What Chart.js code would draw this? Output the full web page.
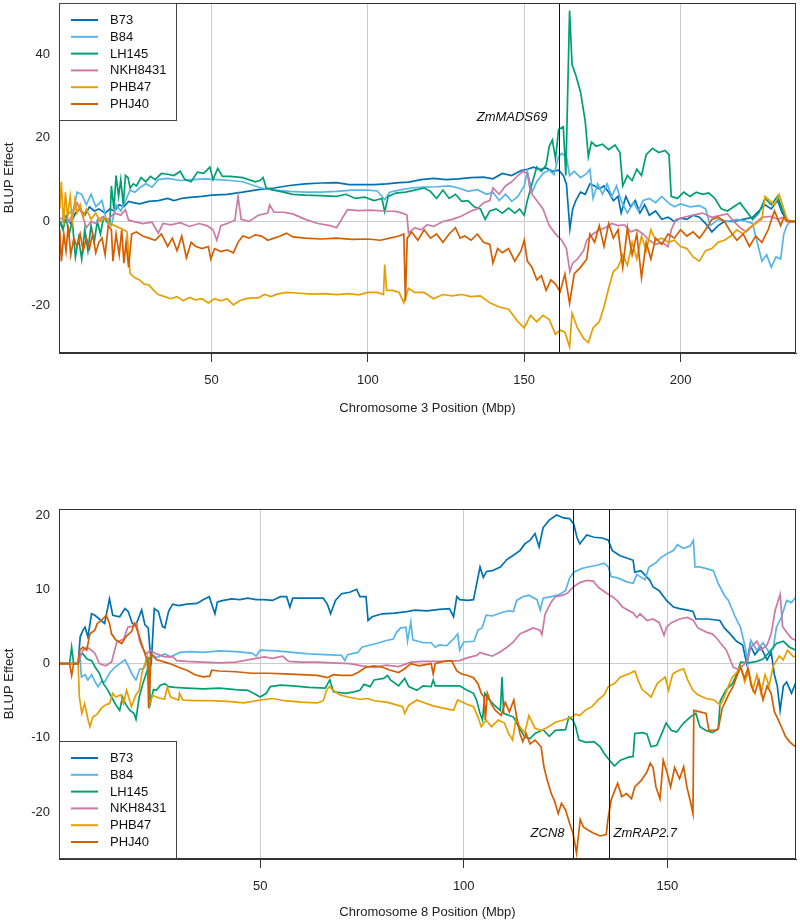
<!DOCTYPE html>
<html lang="en">
<head>
<meta charset="UTF-8">
<title>BLUP effects, chromosomes 3 and 8</title>
<script src="https://cdn.jsdelivr.net/npm/chart.js"></script>
<style>
  body { margin: 0; background: #fff; }
  .panel { position: absolute; left: 0; width: 800px; }
  #top { top: 0; height: 420px; }
  #bottom { top: 420px; height: 502px; }
</style>
</head>
<body>
<div class="panel" id="top"><canvas id="chr3Chart" width="800" height="420"></canvas></div>
<div class="panel" id="bottom"><canvas id="chr8Chart" width="800" height="502"></canvas></div>

<script>
// inbred lines, legend order
const lineNames = ['B73', 'B84', 'LH145', 'NKH8431', 'PHB47', 'PHJ40'];
const lineColors = ['#0072B2', '#56B4E9', '#009E73', '#CC79A7', '#E69F00', '#D55E00'];

// axis ticks
const chr3XTicks = [50, 100, 150, 200];
const chr3YTicks = [-20, 0, 20, 40];
const chr8XTicks = [50, 100, 150];
const chr8YTicks = [-20, -10, 0, 10, 20];

// candidate genes [name, position Mbp, label y, side of label]
const chr3Genes = [['ZmMADS69', 161.2, 25, 'left']];
const chr8Genes = [['ZCN8', 126.8, -22.8, 'left'], ['ZmRAP2.7', 135.6, -22.8, 'right']];

// chromosome 3 : [position (Mbp), BLUP effect]
const chr3B73 = [[1.5,0],[2.5,-1.5],[3.5,1],[5,-0.5],[6.5,2],[8,3],[9.5,1.5],[11,3.5],[12.5,2.5],[14,3],[16,2],[17.5,3],[19,2.5],[20.5,4],[22,3.5],[23.5,4.8],[25,4.5],[27,4.2],[30,4.8],[33,5],[36,5.5],[38,5],[41,5.6],[44,5.8],[47,6],[50,6.3],[55,6.5],[60,7],[65,7.6],[70,8],[75,8.6],[80,9],[85,9.2],[90,9.3],[94,8.8],[98,8.8],[102,8.8],[106,9],[110,9.3],[113,9.4],[117,10],[121,10.3],[125,10],[129,10.2],[133,10.5],[137,10.6],[140,10.2],[143,11.5],[146,11],[149,12.2],[151,12.5],[153,13],[155,12.4],[157,12.8],[159,12],[161,12.3],[162.5,11],[163.5,9],[164.6,-1.8],[165.5,3],[166.5,5],[168,7],[169.5,6.5],[171,9],[172.5,8.5],[174,7.8],[175.5,8.5],[177,7],[178.5,5],[180,6],[181,2],[182.5,6],[184,3.5],[185.5,5],[187,2],[188.5,4],[190,1.5],[192,2.5],[194,0.5],[196,1],[198,0],[200,0.8],[202,0.5],[204,1.5],[206,1],[208,-0.5],[210,-2.5],[212,-1],[214,0],[217,0],[220,0.5],[223,1],[225,2.5],[227,4],[229,3],[231,5],[232.5,2],[234,0.5],[235,0],[237,0]];
const chr3B84 = [[1.5,-1],[3,1],[4.5,2],[6,3],[7,7],[8.5,6.5],[10,4],[11.5,6.5],[13,3.5],[15,5],[16.5,0],[18,-1],[19.5,4],[21,2.5],[22.5,5],[24,7.5],[25.5,7],[27,8],[29,9],[31,8.2],[33,10],[36,10.3],[40,9.8],[44,10],[48,10.2],[52,10],[56,9.8],[60,9.5],[64,8.5],[66,8],[70,7.5],[75,7.2],[80,7],[85,7],[90,7.2],[95,7.5],[100,7.5],[103,7.3],[105.4,5.2],[107,7],[110,7.5],[114,8],[118,8.2],[122,8.3],[126,8.5],[129,8],[132,7.2],[135,7.6],[138,6.5],[140,7],[142,5],[144,6.5],[146,4.8],[148,6],[150,8.5],[151,12],[152.5,7],[154,9.5],[156,11.5],[158,12.3],[159.5,11.2],[161,15.5],[162,16.3],[163.5,15.5],[164.5,11],[166,12],[168,10.5],[170,11.5],[171,12.5],[172,5.5],[173.5,9],[175,6.5],[176.5,9],[178,6],[179.5,8.5],[181,5],[183,2],[185,4.5],[186.5,2.5],[188,5],[190,5.5],[192,4.5],[194,6],[196,4.5],[198,3.5],[200,4.2],[203,3.5],[206,3.8],[208,3],[209.5,-1],[212,0.5],[215,0],[218,0.5],[221,0],[223,-0.5],[224.5,-5],[226,-9.5],[227.5,-8],[229,-11],[230.5,-8.5],[232,-9],[233,-3],[234,-1],[235,0],[237,0]];
const chr3LH145 = [[1.5,0],[2.5,-2],[3.5,1],[4.5,-3],[5.5,0],[6.5,-8.5],[7.5,-4],[8.5,-9],[9.5,-2],[10.5,-7],[11.5,-1],[12.5,-5],[13.5,0],[14.5,-3],[15.5,1],[16.5,0],[17.5,-0.5],[18,8.5],[18.8,3],[19.5,11],[20.3,6],[21,10],[21.8,4],[22.5,11],[23.3,10.5],[24,8],[25,9],[26,8.5],[27.5,10.5],[29,9.5],[30.5,10.8],[32,10],[34,11.5],[36,11.3],[38,11],[40,12],[41.5,10],[43.5,9.5],[45.5,11.8],[47.5,11.5],[49.5,13],[50.5,10],[52,12.7],[53.5,10.8],[56,10.8],[60,10.5],[64,9.5],[65.5,9.8],[66.5,10.5],[67.5,8],[70,7.5],[73,7],[76,6.5],[80,6.3],[85,6.2],[90,6],[93,6.5],[96,5.5],[99,5.8],[102,5],[104.5,5.5],[105.4,2.3],[106.5,6],[109,6.8],[112,7],[115,7.5],[118,8],[120,7.2],[122,5.5],[124,7.5],[126,5.5],[128,6.5],[130,4.8],[132,5],[134,3.5],[136,3],[137.5,0.5],[139,2.5],[141,3],[143,2],[145,3.2],[147,2],[148.5,3],[150,1.5],[151,5],[152.5,9],[154,13],[155.5,12],[157,13.5],[158,18],[159,19.5],[160,15],[161,22],[162.5,22.7],[163.3,11],[164.5,50.5],[165.3,37.5],[166.5,35],[168,31],[169.5,24],[170.5,15.5],[171.5,19],[173,18],[175,18.5],[177,17.2],[179,18.3],[180.6,16.5],[181.5,8.5],[183,11],[184.5,9.8],[186,12.5],[187.5,11],[189,16],[191,17.5],[193,16.5],[195,17],[196.3,16],[197,6],[199,5.5],[201,7],[203,6],[205,7],[207,6.5],[209,6.8],[211,5.5],[213,3],[215,2.5],[217,3.5],[219,4.5],[221,2.5],[223,0.5],[225,2],[227,5.5],[229,4],[231,6],[232.5,3],[234,0.5],[235,0],[237,0]];
const chr3NKH8431 = [[1.5,0.5],[3,1],[4.5,0],[6,2.5],[7,4.5],[8.5,2],[10,-1.5],[11.5,0],[13,-0.5],[15,1],[17,0.5],[19,2],[21,1.5],[22.5,2.8],[23.5,0.3],[25,0],[28,-0.5],[31,-0.2],[33,-2.8],[34.5,-0.5],[37,-0.8],[40,-0.3],[43,-1.2],[46,-0.5],[48.5,-1],[50.5,-2],[51.7,-4.5],[53,-1],[55,-0.5],[57.5,0.3],[58.5,6],[59.5,0.5],[62,0],[65,1.5],[68,2],[68.6,4],[70,2.2],[73,2.2],[76,1.8],[80,0.5],[84,-0.5],[88,-1],[90,-1.5],[92,1],[93.5,2.8],[97,2.6],[101,2.7],[105,2.5],[109,2.4],[111,2],[112.5,1.5],[113,-2.8],[115,-1.5],[117,-2],[119,-0.8],[121,-1.2],[124,0],[127,0.5],[130,1.3],[133,2.5],[135,3],[137,4.5],[139,5],[140,8],[142,6.5],[144,8.5],[146,9.5],[148,11],[149.5,12],[151,11.5],[152,7],[154,5],[156,3],[158,-1],[160,-3],[162,-4.5],[163.5,-6.5],[164.6,-12],[165.5,-10],[167,-9],[169,-7],[170,-4.5],[172,-3],[174,-2],[176,-1.5],[178,-0.5],[180,-1],[182,-0.8],[184,-2.5],[186,-2],[188,-3],[190,-4.5],[192,-5.5],[194,-5],[196,-6],[197,-2],[198.5,0.5],[201,1],[204,1.5],[207,2],[210,1],[213,1.5],[215,1.8],[217,0],[219,-1.5],[221,-2.5],[223,-1],[226,1],[229,1.2],[231,0.5],[233,1],[234,0],[237,0]];
const chr3PHB47 = [[1.5,3],[2,9.5],[2.7,-1],[3.3,7],[4,1],[4.8,6],[5.5,0],[6.3,5],[7,2],[8,4],[9,1],[10,3],[11.5,0.5],[13,2],[14.5,0],[16,1],[17.5,-0.5],[19,-1],[20.5,-1.5],[22,-2],[23,-2.5],[24,-12.5],[25.5,-13.5],[27,-14],[28.5,-15],[30,-15.2],[31.5,-16.5],[33,-17.5],[35,-18],[37,-18.5],[39,-18],[41,-19],[43,-18.2],[45,-18.8],[47,-18.5],[49,-19.5],[51,-18.5],[53,-19],[55,-18.5],[57,-20],[59,-19],[61,-18.5],[63,-18.3],[65,-18.3],[67,-17.5],[69,-18],[71,-17.4],[74,-17],[78,-17.2],[82,-17.4],[86,-17.3],[90,-17.5],[94,-17.3],[97,-17.6],[100,-17],[103,-17],[105,-17.5],[105.4,-10.3],[106,-16.5],[108,-16.5],[110,-17],[111.5,-19.5],[113,-16],[115,-17],[118,-17],[121,-18.5],[124,-17.5],[127,-17.8],[130,-17.5],[133,-18],[136,-17.8],[139,-19.5],[142,-20.5],[145,-21],[148,-24],[150,-25.5],[152,-22.5],[154,-24],[156,-22.5],[158,-23.5],[160,-27],[161.5,-26],[163,-26.5],[164.5,-30],[165.3,-22],[167,-25.5],[169,-28],[170.5,-29],[172,-25.5],[174,-24],[175.5,-20.5],[177,-16],[178.5,-12],[180,-11],[181.5,-8],[183,-10.5],[184.5,-5],[186,-9],[187.5,-3.5],[189,-7],[190.5,-2],[192,-4.5],[194,-4],[196,-5],[198,-4.5],[200,-6],[202,-6.5],[204,-8.5],[206,-9.5],[208,-7],[210,-6.5],[212,-5],[214,-4.5],[216,-3.5],[218,-2],[220,-3],[222,-1.5],[224,-0.5],[226,0.5],[227,6],[228.5,5],[230,4],[231.5,6.5],[233,3],[234,0.5],[235,0],[237,0]];
const chr3PHJ40 = [[1.5,-2],[2,-9.5],[2.8,-3],[3.5,-7],[4.2,-1],[5,-8],[6,-4],[7,-6],[8,-3],[9,-7],[10,-4],[11,-6.5],[12,-3],[13,-7.5],[14,-5],[15,-4],[16,-8],[17,-1],[18,-2],[18.5,-9.5],[19.5,-3],[20.5,-8],[21.3,-2],[22,-10],[22.7,-5],[23.5,-11],[24.5,-3],[26,-2.5],[28,-3.5],[30,-4],[32,-4.5],[34,-3],[36,-6],[37.5,-4],[39,-7],[40.5,-3.5],[42,-8.7],[43.5,-5],[45,-6],[47,-6.5],[49,-6],[49.8,-9],[51,-6.5],[53,-7.2],[55,-6.8],[57,-7.5],[58.5,-5],[60,-3.5],[62,-4],[64,-3.2],[66,-3.5],[68,-4.5],[70,-4],[72,-3.5],[74,-2.8],[76,-3.7],[80,-4],[85,-4.2],[90,-4],[95,-4.3],[100,-4.2],[104,-4.5],[107,-4],[110,-3.5],[111.5,-3],[112,-19],[112.6,-4],[114,-2.5],[116,-4.5],[118,-2],[120,-4],[122,-3],[124,-5],[126,-3],[128,-1.5],[129.5,-4],[131,-3.5],[133,-4.5],[135,-3],[137,-5],[139,-5.5],[140,-10],[141.5,-6.5],[143,-7.5],[145,-6.5],[147,-9.5],[149,-7],[150,-4.5],[151,-9.5],[152.5,-11],[154,-14],[155.5,-13],[157,-16.5],[158.5,-14],[160,-15],[161.5,-16.8],[163,-12.6],[164.5,-19.6],[166,-12.5],[168,-11],[170,-9],[171,-3],[172.5,-5],[174,-1],[175.5,-6],[177,-0.5],[178.5,-4],[180,-2],[181.5,-11],[183,-1.5],[184.5,-8],[186,-3],[187.5,-13.5],[189,-5],[190.5,-9],[192,-4],[194,-5.5],[196,-3],[198,-4],[200,-2],[202,-3.5],[204,-2.5],[206,-4],[208,-2],[210,0.5],[212,1],[214,0],[216,-2.5],[218,-4.5],[220,-3],[222,-6],[224,-3.5],[226,-5],[228,-2],[230,2.5],[232,-1],[233,1],[234,0],[237,0]];

// chromosome 8 : [position (Mbp), BLUP effect]
const chr8B73 = [[0.6,0],[2.5,0],[5.3,0],[5.8,3.6],[6.5,4.5],[7,4.9],[7.7,3.6],[8.6,6.7],[9.4,6.5],[10.5,6],[11.8,5.4],[13,8.7],[13.8,6.5],[15.5,6.3],[16.8,7.4],[17.6,7],[18.6,5.4],[19.5,5.2],[20.9,7.2],[21.7,5.2],[22.5,4.8],[23,1.5],[23.3,0.5],[24,7.4],[25,7],[26,5],[26.6,4.8],[27.5,7],[28.5,8],[30,7.8],[32,8],[34.5,8.1],[36,8.6],[37.5,9],[38.9,6.7],[39.5,8.3],[41,8.5],[43,8.7],[45,8.6],[47,8.8],[49,8.6],[51,8.6],[53,8.5],[55,9],[56.5,9],[57.3,7.6],[58,8.8],[62,8.8],[65.5,8.8],[66.5,8],[67.3,6.7],[68.5,8.5],[70,9.4],[72,9.6],[73.7,10],[74.5,9],[76,9],[76.5,5.8],[77.5,6.3],[80,6.7],[83,6.8],[86,7],[88,7.2],[91,7.1],[94,7.3],[96.5,7.4],[97.5,6.3],[98.3,9],[99,8.6],[101,8.5],[102.4,8.6],[103.2,10.8],[104,13],[104.8,11.6],[105.6,12.4],[107,12.5],[109,13],[110.6,14],[112,14.5],[113.8,15.2],[115,16.1],[116.3,16.6],[117.5,17.5],[118.5,15.7],[119.5,18.3],[121,19.3],[122.8,20],[124.5,19.6],[126,19.5],[127,18.8],[127.8,17],[128.5,16.1],[130.2,17.3],[132,17],[134,16.9],[135.5,16.6],[136.5,15.2],[138.4,14.5],[140,14.2],[141.6,13.9],[142,12.3],[143.5,12.5],[145.7,11.2],[146.5,10.3],[148,9.8],[149.8,8.5],[151.5,7.6],[153,7.4],[155,7.2],[156.3,7],[157,6],[160,6],[162.9,5.8],[164,4.8],[165.4,4],[167,3],[168.5,2.5],[169.5,0],[170.3,2.5],[171.5,1.2],[173,2.2],[174.5,0.5],[175.5,1.5],[176.3,-1.5],[177,-3],[177.7,-6.3],[178.5,-3],[179.3,-2.5],[180.5,-4],[181.6,-2.5]];
const chr8B84 = [[0.6,0],[5.3,0],[5.7,1.3],[6.1,-1.8],[7,-1.5],[7.7,-2.2],[8.6,-1.5],[9.5,-2.5],[10.2,-3.1],[11,-2.4],[11.8,-2.5],[13,-1.3],[14.3,-0.5],[15.5,0],[16.8,0.5],[17.6,-0.3],[18.5,-1.4],[19.5,-2.2],[20.4,-0.8],[21.5,-0.6],[22.5,0.5],[23.5,1.2],[24.6,0.8],[26.6,1.3],[28,0.9],[30.3,1.5],[33,1.6],[36,1.5],[40,1.7],[44,1.6],[48,1.4],[49,1],[50,1.8],[54,1.7],[58,1.5],[62,1.3],[66,1.2],[70,1.1],[70.8,0.4],[71.5,1.2],[74,1.5],[75,2.2],[77,2.5],[78.6,2.7],[81,3.1],[82.7,3.3],[83.5,4.2],[84.5,4.8],[85.8,4.9],[86.2,3],[87,5.6],[87.5,3.2],[90,2.8],[92,2.8],[93,2.2],[94,2.5],[95.8,2.4],[97.5,3.3],[98.5,4],[99,1.8],[100,2.9],[102.5,3],[103.5,4.5],[104.5,4.8],[105.5,6.5],[107,6.4],[109,6.8],[111,7.1],[112.2,7],[113,8.5],[114.5,9],[116,9.2],[118,8.6],[118.8,7.2],[119.5,8.8],[121.5,9],[123.5,9.3],[125,9.8],[126,11.5],[127,12.3],[129,12.8],[130.5,13],[132.5,13.2],[134.5,13.5],[135.5,13],[136.2,11.7],[138,11.5],[140,11],[141.6,10.8],[142.5,12],[144.5,11.3],[145.5,13],[147,13.5],[148.5,14.3],[150,14.8],[151.5,15.2],[152.5,16],[154,15.5],[155.6,15.8],[156.4,16.6],[156.8,13],[158,13],[160,12.7],[161.3,12.5],[162.5,10.8],[164,9.2],[165,8.5],[166.5,6.5],[168,4.8],[169,2.5],[169.8,0.3],[170.5,3.1],[172,1.8],[173.5,2.8],[175,1.5],[176,2],[176.8,4.9],[178,6.2],[179.3,8.5],[180.5,8.2],[181.6,9]];
const chr8LH145 = [[0.6,0],[3.2,0],[3.7,2.2],[4.2,0],[5.3,0],[5.8,1.2],[6.5,1.3],[7.5,0.6],[8.6,0.4],[9.5,-0.5],[10.5,-1.3],[11.5,-2.7],[12.5,-3.5],[13.5,-4.5],[14.5,-5.5],[15.5,-6.3],[16.2,-4.5],[17,-5.5],[18,-6.3],[19,-6.7],[19.5,-7.5],[20.3,-4.5],[21.3,-2.5],[22.3,-0.9],[22.6,0.9],[23,-5.4],[23.8,-3.5],[24.5,-3.6],[25.5,-2.9],[26.6,-2.7],[27.5,-3.1],[29,-3.2],[32,-3.3],[36,-3.4],[40,-3.3],[44,-3.5],[47,-3.6],[49,-4.2],[50,-4.5],[51.5,-4],[52.5,-3.1],[55,-2.9],[58,-3],[62,-3.2],[66,-3.3],[67.1,-2.2],[68,-3.8],[71,-4],[73,-3.8],[74.5,-3.6],[75.5,-2.8],[77,-3.1],[78,-2.2],[80.3,-2],[81.3,-1.6],[82,-2.2],[84,-3],[85.5,-2],[86.5,-3.1],[88.5,-3.6],[90,-3],[92,-3.1],[92.5,-2.2],[93,-3],[96,-3],[99,-3],[100.5,-3.5],[102.4,-4],[103.2,-5],[104,-6.7],[104.6,-7.6],[105.2,-4],[106,-4.7],[107.3,-5.5],[109,-6.3],[109.4,-1.8],[109.8,-6.7],[112.2,-7.2],[113.5,-8.5],[115,-9.9],[116.3,-10.1],[117.5,-9.4],[119.5,-8.9],[121,-9.8],[122.5,-9],[125,-8.9],[125.8,-7.2],[126.8,-7.6],[127.5,-8.5],[128.3,-10.3],[130,-10.6],[132,-10.5],[133.5,-11.2],[134.5,-12.1],[135.8,-13],[137,-13.8],[138.5,-13],[140.5,-12.6],[141.6,-12.5],[142,-9.4],[144,-9.3],[145,-9.5],[146,-11.2],[147.4,-11],[148.5,-9.6],[149.7,-8],[151,-9],[152.3,-9.2],[154,-8],[155.6,-7.2],[157,-6.7],[158,-8.5],[159.5,-9],[161,-9.3],[162.5,-8.8],[163,-5],[164.5,-3.5],[166,-2.7],[167,-1.5],[168,0.2],[170,0.1],[172,0.3],[173.5,0.6],[175,1.5],[176.8,2.7],[178.5,3],[180,2.2],[181.6,1.8]];
const chr8NKH8431 = [[0.6,0],[5.3,0],[5.8,0.9],[6.5,1.8],[7.5,2.2],[8.6,1.8],[9.5,1.3],[10.5,0],[12,-0.3],[13.5,0.2],[14.8,2.9],[16.5,3.3],[17.5,4.9],[18.5,5],[19.7,5.4],[20.4,3],[21,2.2],[22,1.3],[23,1.8],[24.5,1.3],[26.6,0.9],[28.6,0.9],[29.5,0.4],[32,0.3],[36,0.2],[40,0.1],[44,0.2],[48,0.6],[51,0.9],[53,0.7],[55.5,1],[57,0.3],[60,0.2],[64,0.2],[68,0.1],[72,0],[75,-0.3],[78,-0.5],[81,-0.2],[84,-0.4],[87,0.2],[90,0.3],[95,0.3],[99,0.4],[101,0.8],[103.2,1.1],[104,1.5],[105,1.3],[107,1],[109,1.6],[110.6,2.2],[112,2.8],[113.8,4],[115.5,4.4],[117,4.8],[118.7,4.5],[119.2,3.9],[120,6.7],[121.5,8.3],[122.5,9],[124.4,9.2],[125.5,9.5],[126.9,10.3],[128.5,10.9],[130.2,11.2],[131.8,11.1],[133,10.3],[135,9.5],[136.5,9],[137.6,8.5],[139,7.6],[141.6,6.8],[142.5,6.2],[143.3,6.7],[145,5.8],[146.5,6],[148,5.5],[149.2,3.8],[149.8,4.9],[151,5.5],[153,6],[155,6.2],[156.4,5.8],[157.5,4.8],[159.7,4.2],[161,4],[162,3.5],[163,2.8],[164.5,1.8],[166.2,-0.5],[167.5,-0.8],[169.5,0.2],[170.5,2.2],[172,3],[173,1.8],[174.5,2.5],[175.5,4],[176.5,7.2],[177.7,9.3],[178.3,5],[179.3,4.2],[180.5,3.4],[181.6,3.1]];
const chr8PHB47 = [[0.6,0],[5.3,0],[5.6,-4.5],[6.2,-6.7],[6.9,-5.4],[7.7,-7.5],[8.2,-8.5],[8.9,-7.2],[10,-6.8],[11,-6],[12.2,-5.5],[13,-5.4],[13.8,-4],[14.5,-4.5],[15.8,-4.2],[16.4,-5.4],[17.2,-3.6],[18.4,-5.8],[19.5,-4.2],[20.3,-3.6],[21,-1.2],[21.7,0],[22.3,0.9],[22.8,-5.4],[23.6,-4.3],[25,-4.6],[26.5,-4.8],[27.2,-3.2],[28,-4.5],[30,-4.9],[30.2,-4],[31,-4.9],[34,-5],[38,-5],[42,-5.1],[46,-5.3],[50,-4.9],[53,-4.7],[56,-5],[60,-5.2],[64,-5.3],[65.5,-5],[66.3,-3.6],[67,-3.1],[68,-3.6],[69.5,-4.2],[71.5,-4.5],[74.5,-4.8],[76.5,-4.7],[78,-5],[81,-5.2],[83,-5.5],[85,-5.8],[85.5,-6.7],[86.5,-5.6],[88.5,-4.9],[90.5,-5.3],[92.5,-5.7],[95,-6],[97.5,-6.3],[98.5,-4.9],[100.5,-5.4],[102.4,-5.8],[103.5,-7.2],[104.3,-8.5],[105.5,-7.6],[106.8,-8.5],[108.5,-7.6],[110,-8],[111,-9.4],[112,-10.3],[112.8,-7.5],[113.8,-8.5],[115,-9.3],[116,-7],[117.5,-8.7],[119,-9],[120.5,-8.6],[122.5,-7.9],[124.5,-7.6],[126.5,-7.2],[127.5,-6.8],[128.5,-7],[130,-6.2],[131.5,-5.8],[133,-4.9],[134.5,-4.2],[135.5,-3.1],[137,-2.7],[138.5,-1.8],[140.5,-1.4],[142,-1],[142.8,-2.2],[143.8,-3.5],[145,-4],[146,-4.5],[147.5,-2.7],[149.5,-1.8],[150.3,-3.6],[151.3,-1.4],[152.5,-1],[154,-0.7],[155,-2.2],[156.3,-3.6],[157.5,-4.2],[159.5,-4.7],[161.5,-4.9],[163,-5.6],[164,-4.5],[165,-3],[166,-1.8],[167.2,-1.1],[168,-0.3],[169,-2.5],[170,-1],[171,-3.5],[172,-1.5],[173,-4],[174,-1.5],[175,-3],[176,-0.3],[177.5,1],[178.5,0.5],[179.5,1.8],[181,0.9],[181.6,1]];
const chr8PHJ40 = [[0.6,0],[3.2,0],[3.7,-1.6],[4.2,0],[5.3,0],[5.7,1.8],[6.5,2.2],[7.4,1.8],[8.2,4],[9.4,4.5],[10,5.4],[11,5.8],[12.2,6.5],[13,5.4],[13.5,4],[14.5,3.2],[16,2.7],[17,3.6],[18.4,4.3],[19.2,5.4],[20,4.2],[21,2.5],[22,0.8],[22.4,0],[22.6,-6],[22.9,-3],[23.2,1.3],[24.6,0.5],[26,0.3],[27.8,0],[30,-0.5],[32,-0.9],[34,-1.5],[36,-1.8],[37.6,-1.7],[38.1,-0.9],[40,-1],[44,-1.1],[48,-1.3],[52,-1.3],[56,-1.4],[60,-1.5],[64,-1.6],[66.5,-1.9],[68,-1.5],[70,-1.6],[72.5,-1.6],[74,-1.2],[76,-0.5],[78,-0.3],[80,-0.5],[82,-0.9],[84,-1.2],[85.5,-0.7],[87,0],[89,-0.3],[92,0],[92.5,-1.4],[93,0],[95,0.3],[97,0.4],[98.3,-1],[99.5,-1.4],[101,-1.6],[102.4,-1.9],[103.5,-2.7],[104.3,-4],[105,-4.5],[105.3,-7.6],[105.8,-4],[106.8,-5.5],[107.8,-6.3],[109.2,-7],[110.2,-5.2],[111.2,-6.5],[112.3,-4.9],[113,-7.2],[113.8,-9.4],[114.5,-10.5],[115.3,-9.4],[116.3,-10.8],[117.5,-10.3],[119,-11.2],[119.7,-13.9],[120.5,-15.7],[121.5,-17.5],[122.3,-18.5],[123.2,-20.2],[124,-18.8],[125,-19.7],[126,-21.5],[126.8,-22.8],[127.3,-24.2],[127.7,-25.5],[128.1,-23.5],[128.6,-21],[129.4,-22],[130.5,-22.4],[131.8,-22.8],[133.5,-23.2],[135,-23],[135.4,-21],[136.2,-18.4],[137,-17.2],[137.8,-16.1],[138.8,-17.9],[140,-17.5],[141.2,-18.2],[142,-16.6],[143.5,-15.8],[145,-14.6],[145.8,-13.4],[146.5,-14],[147.2,-16.6],[148.2,-18.2],[149,-13],[150,-14.8],[150.8,-16.6],[151.8,-14],[153,-15.5],[154,-13.9],[154.8,-16.6],[155.6,-18.4],[156.3,-20.2],[156.5,-6.3],[158,-6.5],[159.5,-6.7],[160.2,-9],[161.8,-9],[162.5,-8.8],[163.5,-6],[165,-4.2],[166.2,-3],[167,-1.8],[168,-0.5],[169,-2],[169.8,-0.6],[170.6,-3],[171.5,-4],[172.5,-2.2],[173.5,-4.9],[174.5,-3],[175.5,-4],[176.3,-6.5],[177.2,-7.5],[178,-8.5],[179,-9.8],[180,-10.5],[181,-11],[181.6,-11.2]];

const FONT = "'Liberation Sans', Arial, Helvetica, sans-serif";

// box round the plot, legend and gene markers
const extras = {
  id: 'extras',
  afterDatasetsDraw(chart, args, opts) {
    const ctx = chart.ctx;
    const a = chart.chartArea;
    const xs = chart.scales.x, ys = chart.scales.y;
    ctx.save();

    // gene lines + labels
    ctx.font = 'italic 13px ' + FONT;
    ctx.fillStyle = '#111';
    ctx.textBaseline = 'middle';
    opts.genes.forEach(g => {
      const px = Math.round(xs.getPixelForValue(g[1])) + 0.5;
      ctx.strokeStyle = '#111';
      ctx.lineWidth = 1;
      ctx.beginPath();
      ctx.moveTo(px, a.top);
      ctx.lineTo(px, a.bottom);
      ctx.stroke();
      const py = ys.getPixelForValue(g[2]);
      if (g[3] === 'left') {
        ctx.textAlign = 'right';
        ctx.fillText(g[0], px - (opts.gap || 10), py);
      } else {
        ctx.textAlign = 'left';
        ctx.fillText(g[0], px + 4, py);
      }
    });

    // frame
    ctx.strokeStyle = '#333';
    ctx.lineWidth = 1;
    ctx.strokeRect(Math.round(a.left) + 0.5, Math.round(a.top) + 0.5,
      Math.round(a.right - a.left) - 1, Math.round(a.bottom - a.top) - 1);

    // legend box
    const w = 118, h = 118;
    const lx = Math.round(a.left);
    const ly = opts.legendAt === 'top' ? Math.round(a.top) : Math.round(a.bottom) - h;
    ctx.fillStyle = '#fff';
    ctx.fillRect(lx, ly, w, h);
    ctx.strokeStyle = '#444';
    ctx.strokeRect(lx + 0.5, ly + 0.5, w - 1, h - 1);
    ctx.font = '13px ' + FONT;
    ctx.textAlign = 'left';
    lineNames.forEach((name, i) => {
      const ry = ly + 17 + i * 16.8;
      ctx.strokeStyle = lineColors[i];
      ctx.lineWidth = 2;
      ctx.beginPath();
      ctx.moveTo(lx + 12, ry);
      ctx.lineTo(lx + 39, ry);
      ctx.stroke();
      ctx.fillStyle = '#111';
      ctx.fillText(name, lx + 51, ry + 0.5);
    });
    ctx.restore();
  }
};

function makeChart(canvasId, series, cfg) {
  const datasets = lineNames.map((name, i) => ({
    label: name,
    data: series[i].map(p => ({ x: p[0], y: p[1] })),
    borderColor: lineColors[i],
    borderWidth: 1.7,
    pointRadius: 0,
    fill: false,
    tension: 0,
    order: lineNames.length - 1 - i
  }));

  return new Chart(document.getElementById(canvasId), {
    type: 'line',
    data: { datasets: datasets },
    options: {
      responsive: false,
      animation: false,
      events: [],
      layout: { padding: { top: cfg.padTop, right: 4, left: 0, bottom: 0 } },
      plugins: {
        legend: { display: false },
        tooltip: { enabled: false },
        extras: { genes: cfg.genes, legendAt: cfg.legendAt, gap: cfg.gap }
      },
      scales: {
        x: {
          type: 'linear',
          min: cfg.xMin,
          max: cfg.xMax,
          afterBuildTicks: s => { s.ticks = cfg.xTicks.map(v => ({ value: v })); },
          afterFit: s => { s.height = cfg.xHeight; s.paddingLeft = 0; s.paddingRight = 0; },
          grid: { color: '#cccccc', lineWidth: 1, drawTicks: true, tickLength: 9, tickColor: '#333', tickWidth: 1 },
          border: { color: '#333', width: 1 },
          ticks: { color: '#222', font: { size: 13, family: FONT }, padding: 11, maxRotation: 0 },
          title: {
            display: true, text: cfg.xTitle, color: '#222',
            font: { size: 13, family: FONT }, padding: { top: 0, bottom: cfg.titlePad }
          }
        },
        y: {
          type: 'linear',
          min: cfg.yMin,
          max: cfg.yMax,
          afterBuildTicks: s => { s.ticks = cfg.yTicks.map(v => ({ value: v })); },
          afterFit: s => { s.width = 59; s.paddingTop = 0; s.paddingBottom = 0; },
          grid: {
            color: c => (c.tick && c.tick.value === 0) ? '#cccccc' : 'rgba(0,0,0,0)',
            lineWidth: 1, drawTicks: false
          },
          border: { color: '#333', width: 1 },
          ticks: { color: '#222', font: { size: 13, family: FONT }, padding: 9 },
          title: {
            display: true, text: 'BLUP Effect', color: '#222',
            font: { size: 13, family: FONT }, padding: { top: 2, bottom: 0 }
          }
        }
      }
    },
    plugins: [extras]
  });
}

makeChart('chr3Chart',
  [chr3B73, chr3B84, chr3LH145, chr3NKH8431, chr3PHB47, chr3PHJ40],
  {
    padTop: 3, xHeight: 67, titlePad: 4,
    xMin: 1.25, xMax: 236.9, yMin: -31.5, yMax: 52.3,
    xTicks: chr3XTicks, yTicks: chr3YTicks,
    xTitle: 'Chromosome 3 Position (Mbp)',
    genes: chr3Genes, legendAt: 'top', gap: 12
  });

makeChart('chr8Chart',
  [chr8B73, chr8B84, chr8LH145, chr8NKH8431, chr8PHB47, chr8PHJ40],
  {
    padTop: 89, xHeight: 63, titlePad: 2,
    xMin: 0.6, xMax: 181.6, yMin: -26.3, yMax: 20.8,
    xTicks: chr8XTicks, yTicks: chr8YTicks,
    xTitle: 'Chromosome 8 Position (Mbp)',
    genes: chr8Genes, legendAt: 'bottom', gap: 9
  });
</script>
</body>
</html>
